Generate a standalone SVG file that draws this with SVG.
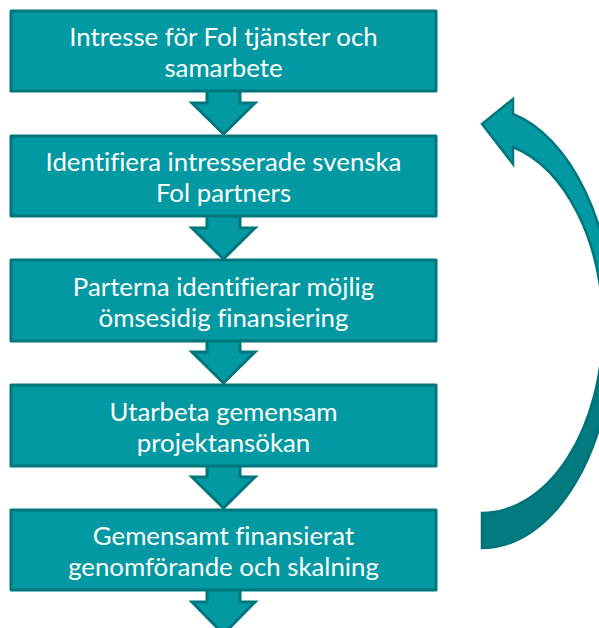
<svg xmlns="http://www.w3.org/2000/svg" width="599" height="628" viewBox="0 0 599 628">
<style>
.box{fill:#0299a2;stroke:#00767d;stroke-width:3;stroke-linejoin:round}
.arr{fill:#0299a2;stroke:#00767d;stroke-width:3;stroke-linejoin:miter}
.t{font-family:Lato,"Open Sans","Liberation Sans",sans-serif;font-size:25.8px;font-weight:400;fill:#ffffff;text-anchor:middle;font-variant-ligatures:none;font-feature-settings:"liga" 0}
.cl{fill:#0299a2;stroke:#00767d;stroke-width:2.5;stroke-linejoin:miter}
.cd{fill:#017a80;stroke:#00737a;stroke-width:2.5}
</style>
<rect width="599" height="628" fill="#ffffff"/>
<g id="connectors">
  <path class="arr" d="M207 85 L207 103 L192 103 L223.5 134 L255 103 L240 103 L240 85 Z"/>
  <path class="arr" d="M207 210 L207 228 L192 228 L223.5 259 L255 228 L240 228 L240 210 Z"/>
  <path class="arr" d="M207 334 L207 352 L192 352 L223.5 383 L255 352 L240 352 L240 334 Z"/>
  <path class="arr" d="M207 459 L207 477 L192 477 L223.5 508 L255 477 L240 477 L240 459 Z"/>
  <path class="arr" d="M207 585 L207 602 L192 602 L223.5 634 L255 602 L240 602 L240 585 Z"/>
  <g id="loop">
    <path class="cd" d="M614 326 A132 222 0 0 1 482 548 L482 513 A121 187 0 0 0 603 326 Z"/>
    <path class="cl" d="M482 124 L513 99 L513 114 A132 222 0 0 1 614 326 L603 326 A121 187 0 0 0 513 147 L513 164 Z"/>
  </g>
</g>
<g id="n1">
  <rect class="box" x="11" y="11" width="425" height="80"/>
  <text class="t" x="223.5" y="46">Intresse för Fol tjänster och</text>
  <text class="t" x="223.5" y="77">samarbete</text>
</g>
<g id="n2">
  <rect class="box" x="11" y="136" width="425" height="80"/>
  <text class="t" x="223.5" y="171">Identifiera intresserade svenska</text>
  <text class="t" x="223.5" y="202">Fol partners</text>
</g>
<g id="n3">
  <rect class="box" x="11" y="260" width="425" height="81"/>
  <text class="t" x="223.5" y="296">Parterna identifierar möjlig</text>
  <text class="t" x="223.5" y="327">ömsesidig finansiering</text>
</g>
<g id="n4">
  <rect class="box" x="11" y="385" width="425" height="81"/>
  <text class="t" x="223.5" y="421">Utarbeta gemensam</text>
  <text class="t" x="223.5" y="452">projektansökan</text>
</g>
<g id="n5">
  <rect class="box" x="11" y="510" width="425" height="80"/>
  <text class="t" x="223.5" y="545">Gemensamt finansierat</text>
  <text class="t" x="223.5" y="576">genomförande och skalning</text>
</g>
</svg>
